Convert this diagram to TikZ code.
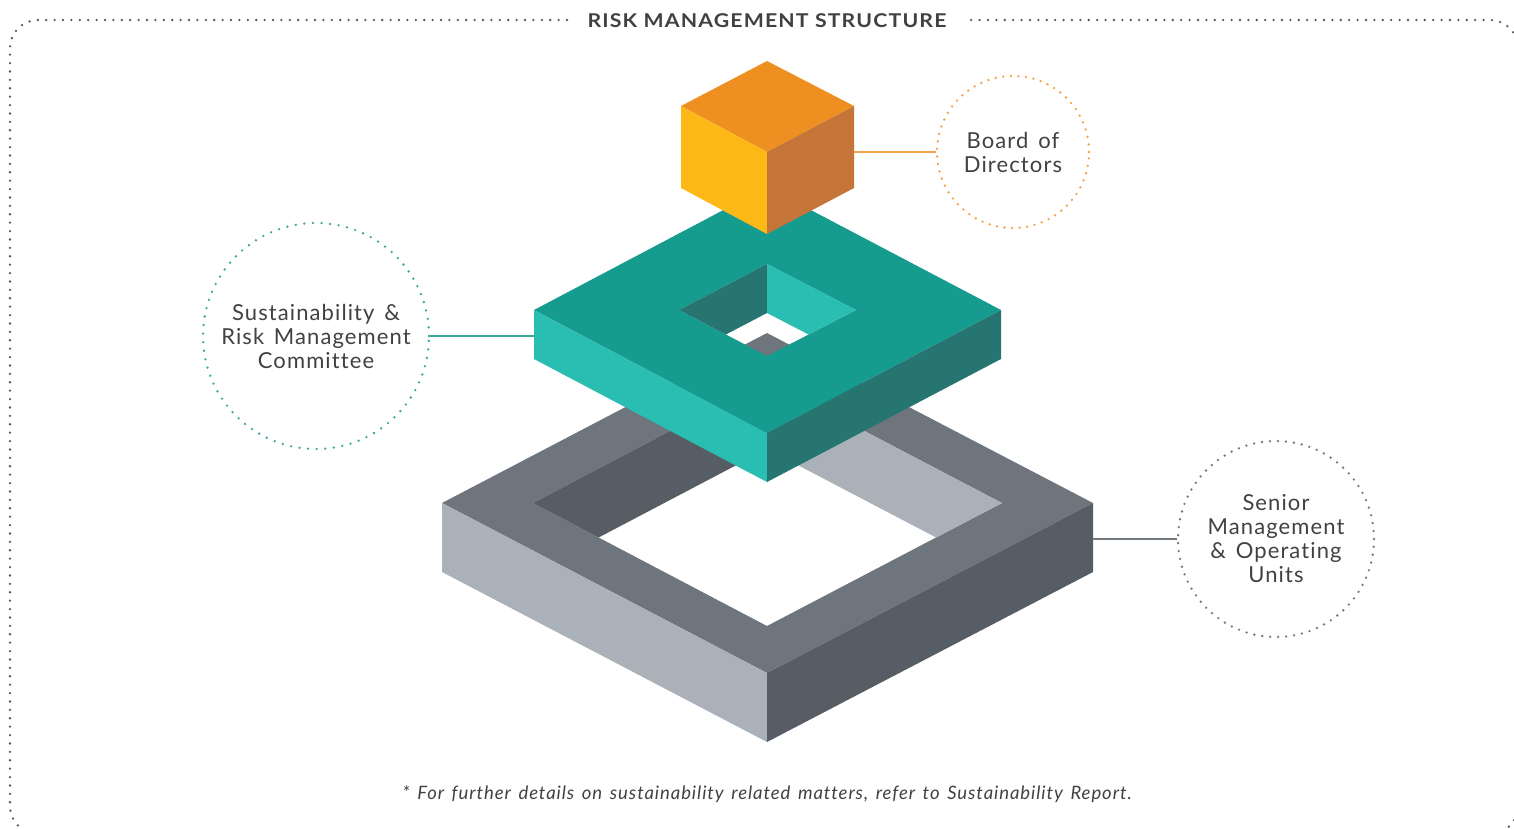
\documentclass[tikz,border=0pt]{standalone}
\usepackage{fontspec}
\setmainfont{Lato}[Ligatures=NoCommon]
\newfontfamily\titlefont{Lato}[Ligatures=NoCommon, FakeStretch=1.12, LetterSpace=6]
\newfontfamily\labelfont{Lato}[Ligatures=NoCommon, LetterSpace=5]
\newfontfamily\notefont{Lato}[Ligatures=NoCommon, LetterSpace=5, WordSpace=1.45]
\definecolor{txt}{HTML}{414042}
\definecolor{bordergrey}{HTML}{54595F}
\definecolor{cubeTop}{HTML}{EE8F21}
\definecolor{cubeLeft}{HTML}{FBB817}
\definecolor{cubeRight}{HTML}{C67538}
\definecolor{tealTop}{HTML}{169B8F}
\definecolor{tealLight}{HTML}{2ABDB2}
\definecolor{tealDark}{HTML}{267570}
\definecolor{greyTop}{HTML}{6E757C}
\definecolor{greyLight}{HTML}{AAB1B8}
\definecolor{greyDark}{HTML}{565D64}
\definecolor{orangeDot}{HTML}{F4A043}
\definecolor{orangeLine}{HTML}{F5A24E}
\definecolor{tealLine}{HTML}{3BA69C}
\definecolor{greyLine}{HTML}{737980}
\tikzset{
  dotline/.style={line width=2.6pt, line cap=round, dash pattern=on 0pt off #1},
  bubble/.style 2 args={circle, draw=#1, dotline=#2, align=center, text=txt,
    font=\labelfont\fontsize{22}{24}\selectfont},
  link/.style={draw=#1, line width=2pt}
}
\begin{document}
\begin{tikzpicture}[x=1pt,y=-1pt]
\useasboundingbox (0,0) rectangle (1514,828);

% dotted frame, open at the title
\begin{scope}
\clip (0,0) rectangle (1514,828);
\draw[bordergrey, dotline=8.4pt, rounded corners=28pt]
  (567,20) -- (10,20) -- (10,834) -- (1518,834) -- (1518,20) -- (968,20);
\end{scope}
\node[text=txt, font=\titlefont\fontsize{19}{24}\selectfont\bfseries]
  (title) at (767,21) {RISK MANAGEMENT STRUCTURE};

% bottom level: grey ring
\fill[greyTop, even odd rule] (767,333) -- (1093,503) -- (767,673) -- (442,503) -- cycle
  (767,380) -- (1002,503) -- (767,626) -- (533,503) -- cycle;
\begin{scope}
\clip (767,380) -- (1002,503) -- (767,626) -- (533,503) -- cycle;
\fill[greyDark] (533,503) -- (767,380) -- (767,449) -- (533,572) -- cycle;
\fill[greyLight] (767,380) -- (1002,503) -- (1002,572) -- (767,449) -- cycle;
\end{scope}
\fill[greyLight] (442,503) -- (767,673) -- (767,742) -- (442,572) -- cycle;
\fill[greyDark] (767,673) -- (1093,503) -- (1093,572) -- (767,742) -- cycle;
\coordinate (greyR) at (1093,539);

% middle level: teal ring
\fill[tealTop, even odd rule] (767,187) -- (1001,310) -- (767,433) -- (534,310) -- cycle
  (767,264) -- (856,310) -- (767,356) -- (679,310) -- cycle;
\begin{scope}
\clip (767,264) -- (856,310) -- (767,356) -- (679,310) -- cycle;
\fill[tealDark] (679,310) -- (767,264) -- (767,313) -- (679,359) -- cycle;
\fill[tealLight] (767,264) -- (856,310) -- (856,359) -- (767,313) -- cycle;
\end{scope}
\fill[tealLight] (534,310) -- (767,433) -- (767,482) -- (534,359) -- cycle;
\fill[tealDark] (767,433) -- (1001,310) -- (1001,359) -- (767,482) -- cycle;
\coordinate (tealL) at (534,336);

% top level: cube
\fill[cubeTop] (767,61) -- (854,106) -- (767,152) -- (681,106) -- cycle;
\fill[cubeLeft] (681,106) -- (767,152) -- (767,234) -- (681,188) -- cycle;
\fill[cubeRight] (767,152) -- (854,106) -- (854,188) -- (767,234) -- cycle;
\coordinate (cubeR) at (854,152);

% labels
\node[bubble={orangeDot}{7.6pt}, minimum size=152pt] (bod) at (1013,152)
  {Board of\\Directors};
\node[bubble={tealLine}{8.6pt}, minimum size=226pt] (srmc) at (316,336)
  {Sustainability \&\\Risk Management\\Committee};
\node[bubble={greyLine}{8pt}, minimum size=196pt] (smou) at (1276,539)
  {Senior\\Management\\\& Operating\\Units};

% connectors
\draw[link=orangeLine] (cubeR) -- (bod.west);
\draw[link=tealLine] (srmc.east) -- (tealL);
\draw[link=greyLine] (greyR) -- (smou.west);

% footnote
\node[text=txt, font=\notefont\fontsize{18.5}{20}\selectfont\itshape]
  (note) at (767,794)
  {* For further details on sustainability related matters, refer to Sustainability Report.};
\end{tikzpicture}
\end{document}
